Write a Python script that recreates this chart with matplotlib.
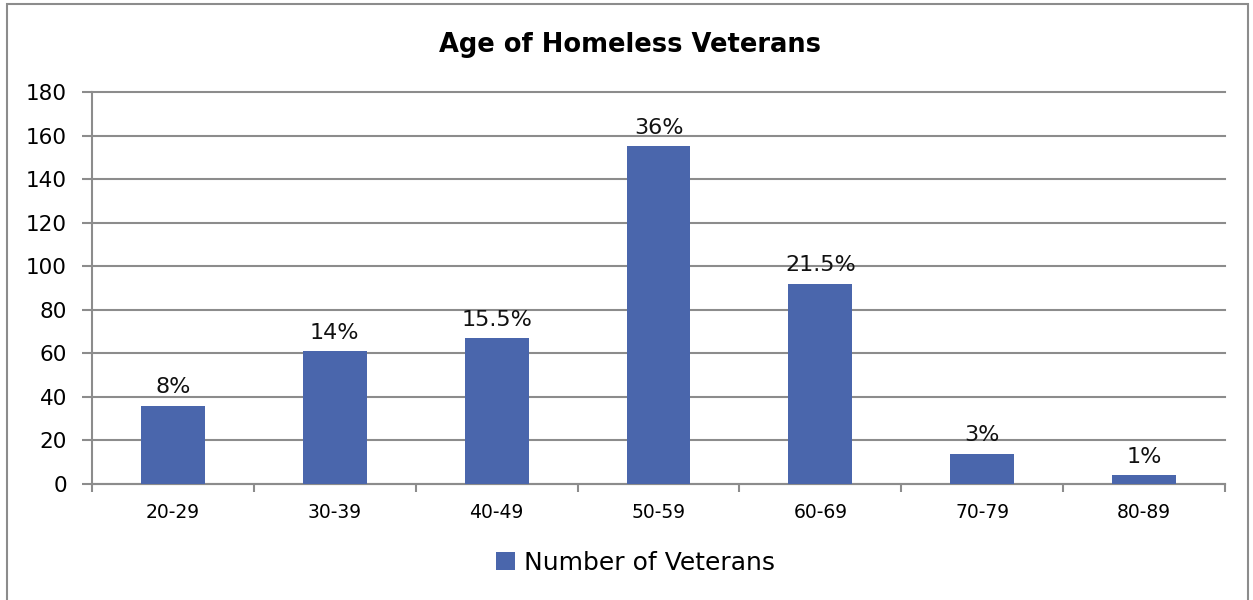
import matplotlib.pyplot as plt
import numpy as np
from matplotlib.patches import Rectangle

# data
age_groups = ["20-29", "30-39", "40-49", "50-59", "60-69", "70-79", "80-89"]
veterans = [36, 61, 67, 155, 92, 14, 4]
pct_labels = ["8%", "14%", "15.5%", "36%", "21.5%", "3%", "1%"]

bar_color = "#4a66ac"
grid_color = "#8c8c8c"

fig = plt.figure(figsize=(12.53, 6), dpi=100)
ax = fig.add_axes([0.0734, 0.1933, 0.9043, 0.6533])

x = np.arange(len(age_groups))
bars = ax.bar(x, veterans, width=0.395, color=bar_color, label="Number of Veterans", zorder=3)
ax.bar_label(bars, labels=pct_labels, padding=6, fontsize=16, color="#111111")

# axes
ax.set_xlim(-0.5, len(age_groups) - 0.5)
ax.set_ylim(0, 180)
ax.set_yticks(np.arange(0, 181, 20))
ax.tick_params(axis="y", labelsize=15.5, length=7, width=1.5, color=grid_color, pad=11)
ax.set_xticks(x)
ax.set_xticklabels(age_groups, fontsize=13.5)
ax.tick_params(axis="x", which="major", length=0, pad=14)
ax.set_xticks(np.arange(-0.5, len(age_groups)), minor=True)
ax.tick_params(axis="x", which="minor", length=6, width=1.5, color=grid_color)

ax.grid(axis="y", color=grid_color, linewidth=1.5, zorder=0)
for gl in ax.get_ygridlines():
    gl.set_clip_on(False)
ax.set_axisbelow(True)
for side in ["top", "right"]:
    ax.spines[side].set_visible(False)
for side in ["left", "bottom"]:
    ax.spines[side].set_color(grid_color)
    ax.spines[side].set_linewidth(1.5)

fig.text(0.503, 0.925, "Age of Homeless Veterans", ha="center", va="center",
         fontsize=18.5, fontweight="bold")

fig.legend(handles=[bars], loc="center", bbox_to_anchor=(0.507, 0.062), frameon=False,
           fontsize=18, handlelength=0.75, handleheight=0.75, handletextpad=0.35)

# outer chart border
fig.patches.append(Rectangle((7 / 1253, -0.05), 1241 / 1253, 1.05 - 3.5 / 600,
                             transform=fig.transFigure, fill=False,
                             edgecolor="#8c8c8c", linewidth=1.5))

fig.savefig("out.png", dpi=100)
